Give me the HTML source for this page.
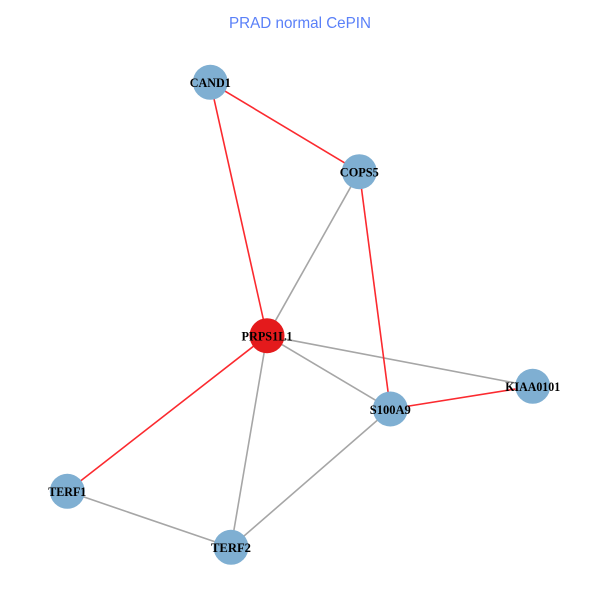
<!DOCTYPE html>
<html><head><meta charset="utf-8"><style>html,body{margin:0;padding:0;background:#fff}svg{display:block}</style></head>
<body>
<svg width="600" height="600" viewBox="0 0 600 600" xmlns="http://www.w3.org/2000/svg">
<rect width="600" height="600" fill="#fff"/>
<text x="300" y="28" text-anchor="middle" font-family="'Liberation Sans',sans-serif" font-size="16" fill="#5a80f8" textLength="142" lengthAdjust="spacingAndGlyphs">PRAD normal CePIN</text>
<g stroke-width="1.6" fill="none">
<g stroke="#a6a6a6">
<line x1="359.3" y1="171.7" x2="267" y2="335.7"/>
<line x1="267" y1="335.7" x2="532.7" y2="386.3"/>
<line x1="267" y1="335.7" x2="390.3" y2="409"/>
<line x1="267" y1="335.7" x2="231" y2="547.3"/>
<line x1="390.3" y1="409" x2="231" y2="547.3"/>
<line x1="67.3" y1="491.3" x2="231" y2="547.3"/>
</g>
<g stroke="#fb2a2f">
<line x1="210.3" y1="82.3" x2="359.3" y2="171.7"/>
<line x1="210.3" y1="82.3" x2="267" y2="335.7"/>
<line x1="359.3" y1="171.7" x2="390.3" y2="409"/>
<line x1="390.3" y1="409" x2="532.7" y2="386.3"/>
<line x1="267" y1="335.7" x2="67.3" y2="491.3"/>
</g>
</g>
<g fill="#7fafd2">
<circle cx="210.3" cy="82.3" r="17.5"/>
<circle cx="359.3" cy="171.7" r="17.5"/>
<circle cx="532.7" cy="386.3" r="17.5"/>
<circle cx="390.3" cy="409" r="17.5"/>
<circle cx="67.3" cy="491.3" r="17.5"/>
<circle cx="231" cy="547.3" r="17.5"/>
</g>
<circle cx="267" cy="335.7" r="17.5" fill="#e41a1c"/>
<g font-family="'Liberation Serif',serif" font-weight="bold" font-size="13" fill="#000" text-anchor="middle">
<text x="210.3" y="87" textLength="41" lengthAdjust="spacingAndGlyphs">CAND1</text>
<text x="359.3" y="176.5" textLength="39" lengthAdjust="spacingAndGlyphs">COPS5</text>
<text x="267" y="340.5" textLength="51" lengthAdjust="spacingAndGlyphs">PRPS1L1</text>
<text x="532.7" y="391" textLength="55" lengthAdjust="spacingAndGlyphs">KIAA0101</text>
<text x="390.3" y="414" textLength="41" lengthAdjust="spacingAndGlyphs">S100A9</text>
<text x="67.3" y="496" textLength="38" lengthAdjust="spacingAndGlyphs">TERF1</text>
<text x="231" y="552" textLength="40" lengthAdjust="spacingAndGlyphs">TERF2</text>
</g>
</svg>
</body></html>
